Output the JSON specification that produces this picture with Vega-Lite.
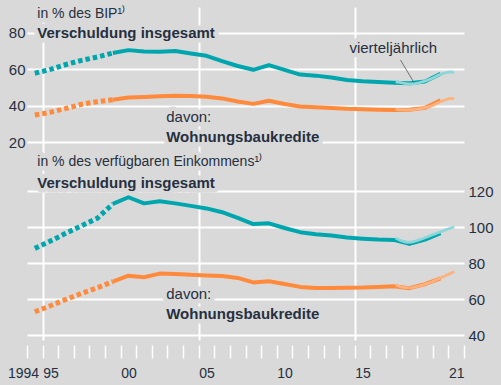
{
  "$schema": "https://vega.github.io/schema/vega-lite/v6.json",
  "width": 437,
  "height": 333,
  "autosize": {"type": "none"},
  "padding": {"left": 27, "top": 7, "right": 37, "bottom": 45},
  "background": "#d9d9d9",
  "config": {
    "view": {"stroke": null},
    "font": "Liberation Sans",
    "text": {"font": "Liberation Sans", "color": "#263040"}
  },
  "datasets": {
    "kurven": [
      {"panel": "BIP", "reihe": "gesamt", "art": "früh", "t": 1994.5, "v": 57.9},
      {"panel": "BIP", "reihe": "gesamt", "art": "früh", "t": 1995.5, "v": 60.0},
      {"panel": "BIP", "reihe": "gesamt", "art": "früh", "t": 1996.5, "v": 62.7},
      {"panel": "BIP", "reihe": "gesamt", "art": "früh", "t": 1997.5, "v": 65.0},
      {"panel": "BIP", "reihe": "gesamt", "art": "früh", "t": 1998.5, "v": 66.8},
      {"panel": "BIP", "reihe": "gesamt", "art": "früh", "t": 1999.5, "v": 69.0},
      {"panel": "BIP", "reihe": "gesamt", "art": "jährlich", "t": 1999.5, "v": 69.0},
      {"panel": "BIP", "reihe": "gesamt", "art": "jährlich", "t": 2000.5, "v": 70.6},
      {"panel": "BIP", "reihe": "gesamt", "art": "jährlich", "t": 2001.5, "v": 69.8},
      {"panel": "BIP", "reihe": "gesamt", "art": "jährlich", "t": 2002.5, "v": 69.7},
      {"panel": "BIP", "reihe": "gesamt", "art": "jährlich", "t": 2003.5, "v": 70.1},
      {"panel": "BIP", "reihe": "gesamt", "art": "jährlich", "t": 2004.5, "v": 68.8},
      {"panel": "BIP", "reihe": "gesamt", "art": "jährlich", "t": 2005.5, "v": 67.5},
      {"panel": "BIP", "reihe": "gesamt", "art": "jährlich", "t": 2006.5, "v": 64.6},
      {"panel": "BIP", "reihe": "gesamt", "art": "jährlich", "t": 2007.5, "v": 61.9},
      {"panel": "BIP", "reihe": "gesamt", "art": "jährlich", "t": 2008.5, "v": 59.8},
      {"panel": "BIP", "reihe": "gesamt", "art": "jährlich", "t": 2009.5, "v": 62.4},
      {"panel": "BIP", "reihe": "gesamt", "art": "jährlich", "t": 2010.5, "v": 59.8},
      {"panel": "BIP", "reihe": "gesamt", "art": "jährlich", "t": 2011.5, "v": 57.2},
      {"panel": "BIP", "reihe": "gesamt", "art": "jährlich", "t": 2012.5, "v": 56.6},
      {"panel": "BIP", "reihe": "gesamt", "art": "jährlich", "t": 2013.5, "v": 55.6},
      {"panel": "BIP", "reihe": "gesamt", "art": "jährlich", "t": 2014.5, "v": 54.2},
      {"panel": "BIP", "reihe": "gesamt", "art": "jährlich", "t": 2015.5, "v": 53.5},
      {"panel": "BIP", "reihe": "gesamt", "art": "jährlich", "t": 2016.5, "v": 53.1},
      {"panel": "BIP", "reihe": "gesamt", "art": "jährlich", "t": 2017.5, "v": 52.7},
      {"panel": "BIP", "reihe": "gesamt", "art": "jährlich", "t": 2018.5, "v": 52.4},
      {"panel": "BIP", "reihe": "gesamt", "art": "jährlich", "t": 2019.5, "v": 53.4},
      {"panel": "BIP", "reihe": "gesamt", "art": "jährlich", "t": 2020.5, "v": 57.6},
      {"panel": "BIP", "reihe": "gesamt", "art": "vierteljährlich", "t": 2017.625, "v": 53.2},
      {"panel": "BIP", "reihe": "gesamt", "art": "vierteljährlich", "t": 2017.875, "v": 52.9},
      {"panel": "BIP", "reihe": "gesamt", "art": "vierteljährlich", "t": 2018.125, "v": 52.5},
      {"panel": "BIP", "reihe": "gesamt", "art": "vierteljährlich", "t": 2018.375, "v": 52.1},
      {"panel": "BIP", "reihe": "gesamt", "art": "vierteljährlich", "t": 2018.625, "v": 52.0},
      {"panel": "BIP", "reihe": "gesamt", "art": "vierteljährlich", "t": 2018.875, "v": 52.2},
      {"panel": "BIP", "reihe": "gesamt", "art": "vierteljährlich", "t": 2019.125, "v": 52.7},
      {"panel": "BIP", "reihe": "gesamt", "art": "vierteljährlich", "t": 2019.375, "v": 53.3},
      {"panel": "BIP", "reihe": "gesamt", "art": "vierteljährlich", "t": 2019.625, "v": 54.0},
      {"panel": "BIP", "reihe": "gesamt", "art": "vierteljährlich", "t": 2019.875, "v": 54.8},
      {"panel": "BIP", "reihe": "gesamt", "art": "vierteljährlich", "t": 2020.125, "v": 55.8},
      {"panel": "BIP", "reihe": "gesamt", "art": "vierteljährlich", "t": 2020.375, "v": 56.9},
      {"panel": "BIP", "reihe": "gesamt", "art": "vierteljährlich", "t": 2020.625, "v": 57.7},
      {"panel": "BIP", "reihe": "gesamt", "art": "vierteljährlich", "t": 2020.875, "v": 58.2},
      {"panel": "BIP", "reihe": "gesamt", "art": "vierteljährlich", "t": 2021.125, "v": 58.6},
      {"panel": "BIP", "reihe": "gesamt", "art": "vierteljährlich", "t": 2021.375, "v": 58.3},
      {"panel": "BIP", "reihe": "wohnung", "art": "früh", "t": 1994.5, "v": 35.0},
      {"panel": "BIP", "reihe": "wohnung", "art": "früh", "t": 1995.5, "v": 36.5},
      {"panel": "BIP", "reihe": "wohnung", "art": "früh", "t": 1996.5, "v": 38.6},
      {"panel": "BIP", "reihe": "wohnung", "art": "früh", "t": 1997.5, "v": 40.9},
      {"panel": "BIP", "reihe": "wohnung", "art": "früh", "t": 1998.5, "v": 42.3},
      {"panel": "BIP", "reihe": "wohnung", "art": "früh", "t": 1999.5, "v": 43.4},
      {"panel": "BIP", "reihe": "wohnung", "art": "jährlich", "t": 1999.5, "v": 43.4},
      {"panel": "BIP", "reihe": "wohnung", "art": "jährlich", "t": 2000.5, "v": 44.6},
      {"panel": "BIP", "reihe": "wohnung", "art": "jährlich", "t": 2001.5, "v": 44.9},
      {"panel": "BIP", "reihe": "wohnung", "art": "jährlich", "t": 2002.5, "v": 45.3},
      {"panel": "BIP", "reihe": "wohnung", "art": "jährlich", "t": 2003.5, "v": 45.6},
      {"panel": "BIP", "reihe": "wohnung", "art": "jährlich", "t": 2004.5, "v": 45.4},
      {"panel": "BIP", "reihe": "wohnung", "art": "jährlich", "t": 2005.5, "v": 45.0},
      {"panel": "BIP", "reihe": "wohnung", "art": "jährlich", "t": 2006.5, "v": 44.1},
      {"panel": "BIP", "reihe": "wohnung", "art": "jährlich", "t": 2007.5, "v": 42.4},
      {"panel": "BIP", "reihe": "wohnung", "art": "jährlich", "t": 2008.5, "v": 41.1},
      {"panel": "BIP", "reihe": "wohnung", "art": "jährlich", "t": 2009.5, "v": 42.8},
      {"panel": "BIP", "reihe": "wohnung", "art": "jährlich", "t": 2010.5, "v": 41.0},
      {"panel": "BIP", "reihe": "wohnung", "art": "jährlich", "t": 2011.5, "v": 39.7},
      {"panel": "BIP", "reihe": "wohnung", "art": "jährlich", "t": 2012.5, "v": 39.3},
      {"panel": "BIP", "reihe": "wohnung", "art": "jährlich", "t": 2013.5, "v": 38.9},
      {"panel": "BIP", "reihe": "wohnung", "art": "jährlich", "t": 2014.5, "v": 38.4},
      {"panel": "BIP", "reihe": "wohnung", "art": "jährlich", "t": 2015.5, "v": 38.1},
      {"panel": "BIP", "reihe": "wohnung", "art": "jährlich", "t": 2016.5, "v": 37.9},
      {"panel": "BIP", "reihe": "wohnung", "art": "jährlich", "t": 2017.5, "v": 37.8},
      {"panel": "BIP", "reihe": "wohnung", "art": "jährlich", "t": 2018.5, "v": 37.9},
      {"panel": "BIP", "reihe": "wohnung", "art": "jährlich", "t": 2019.5, "v": 38.9},
      {"panel": "BIP", "reihe": "wohnung", "art": "jährlich", "t": 2020.5, "v": 43.0},
      {"panel": "BIP", "reihe": "wohnung", "art": "vierteljährlich", "t": 2017.625, "v": 38.0},
      {"panel": "BIP", "reihe": "wohnung", "art": "vierteljährlich", "t": 2017.875, "v": 37.9},
      {"panel": "BIP", "reihe": "wohnung", "art": "vierteljährlich", "t": 2018.125, "v": 37.8},
      {"panel": "BIP", "reihe": "wohnung", "art": "vierteljährlich", "t": 2018.375, "v": 37.8},
      {"panel": "BIP", "reihe": "wohnung", "art": "vierteljährlich", "t": 2018.625, "v": 37.9},
      {"panel": "BIP", "reihe": "wohnung", "art": "vierteljährlich", "t": 2018.875, "v": 38.1},
      {"panel": "BIP", "reihe": "wohnung", "art": "vierteljährlich", "t": 2019.125, "v": 38.4},
      {"panel": "BIP", "reihe": "wohnung", "art": "vierteljährlich", "t": 2019.375, "v": 38.8},
      {"panel": "BIP", "reihe": "wohnung", "art": "vierteljährlich", "t": 2019.625, "v": 39.3},
      {"panel": "BIP", "reihe": "wohnung", "art": "vierteljährlich", "t": 2019.875, "v": 39.9},
      {"panel": "BIP", "reihe": "wohnung", "art": "vierteljährlich", "t": 2020.125, "v": 40.7},
      {"panel": "BIP", "reihe": "wohnung", "art": "vierteljährlich", "t": 2020.375, "v": 41.8},
      {"panel": "BIP", "reihe": "wohnung", "art": "vierteljährlich", "t": 2020.625, "v": 42.8},
      {"panel": "BIP", "reihe": "wohnung", "art": "vierteljährlich", "t": 2020.875, "v": 43.5},
      {"panel": "BIP", "reihe": "wohnung", "art": "vierteljährlich", "t": 2021.125, "v": 44.1},
      {"panel": "BIP", "reihe": "wohnung", "art": "vierteljährlich", "t": 2021.375, "v": 44.0},
      {"panel": "Einkommen", "reihe": "gesamt", "art": "früh", "t": 1994.5, "v": 88.3},
      {"panel": "Einkommen", "reihe": "gesamt", "art": "früh", "t": 1995.5, "v": 92.4},
      {"panel": "Einkommen", "reihe": "gesamt", "art": "früh", "t": 1996.5, "v": 96.7},
      {"panel": "Einkommen", "reihe": "gesamt", "art": "früh", "t": 1997.5, "v": 100.9},
      {"panel": "Einkommen", "reihe": "gesamt", "art": "früh", "t": 1998.5, "v": 105.0},
      {"panel": "Einkommen", "reihe": "gesamt", "art": "früh", "t": 1999.5, "v": 113.0},
      {"panel": "Einkommen", "reihe": "gesamt", "art": "jährlich", "t": 1999.5, "v": 113.0},
      {"panel": "Einkommen", "reihe": "gesamt", "art": "jährlich", "t": 2000.5, "v": 116.7},
      {"panel": "Einkommen", "reihe": "gesamt", "art": "jährlich", "t": 2001.5, "v": 113.3},
      {"panel": "Einkommen", "reihe": "gesamt", "art": "jährlich", "t": 2002.5, "v": 114.5},
      {"panel": "Einkommen", "reihe": "gesamt", "art": "jährlich", "t": 2003.5, "v": 113.3},
      {"panel": "Einkommen", "reihe": "gesamt", "art": "jährlich", "t": 2004.5, "v": 111.9},
      {"panel": "Einkommen", "reihe": "gesamt", "art": "jährlich", "t": 2005.5, "v": 110.5},
      {"panel": "Einkommen", "reihe": "gesamt", "art": "jährlich", "t": 2006.5, "v": 108.4},
      {"panel": "Einkommen", "reihe": "gesamt", "art": "jährlich", "t": 2007.5, "v": 105.3},
      {"panel": "Einkommen", "reihe": "gesamt", "art": "jährlich", "t": 2008.5, "v": 101.8},
      {"panel": "Einkommen", "reihe": "gesamt", "art": "jährlich", "t": 2009.5, "v": 102.2},
      {"panel": "Einkommen", "reihe": "gesamt", "art": "jährlich", "t": 2010.5, "v": 99.6},
      {"panel": "Einkommen", "reihe": "gesamt", "art": "jährlich", "t": 2011.5, "v": 97.3},
      {"panel": "Einkommen", "reihe": "gesamt", "art": "jährlich", "t": 2012.5, "v": 96.1},
      {"panel": "Einkommen", "reihe": "gesamt", "art": "jährlich", "t": 2013.5, "v": 95.4},
      {"panel": "Einkommen", "reihe": "gesamt", "art": "jährlich", "t": 2014.5, "v": 94.3},
      {"panel": "Einkommen", "reihe": "gesamt", "art": "jährlich", "t": 2015.5, "v": 93.7},
      {"panel": "Einkommen", "reihe": "gesamt", "art": "jährlich", "t": 2016.5, "v": 93.2},
      {"panel": "Einkommen", "reihe": "gesamt", "art": "jährlich", "t": 2017.5, "v": 93.0},
      {"panel": "Einkommen", "reihe": "gesamt", "art": "jährlich", "t": 2018.5, "v": 90.8},
      {"panel": "Einkommen", "reihe": "gesamt", "art": "jährlich", "t": 2019.5, "v": 93.2},
      {"panel": "Einkommen", "reihe": "gesamt", "art": "jährlich", "t": 2020.5, "v": 96.7},
      {"panel": "Einkommen", "reihe": "gesamt", "art": "vierteljährlich", "t": 2017.625, "v": 94.0},
      {"panel": "Einkommen", "reihe": "gesamt", "art": "vierteljährlich", "t": 2017.875, "v": 92.9},
      {"panel": "Einkommen", "reihe": "gesamt", "art": "vierteljährlich", "t": 2018.125, "v": 92.1},
      {"panel": "Einkommen", "reihe": "gesamt", "art": "vierteljährlich", "t": 2018.375, "v": 91.7},
      {"panel": "Einkommen", "reihe": "gesamt", "art": "vierteljährlich", "t": 2018.625, "v": 91.8},
      {"panel": "Einkommen", "reihe": "gesamt", "art": "vierteljährlich", "t": 2018.875, "v": 92.3},
      {"panel": "Einkommen", "reihe": "gesamt", "art": "vierteljährlich", "t": 2019.125, "v": 93.0},
      {"panel": "Einkommen", "reihe": "gesamt", "art": "vierteljährlich", "t": 2019.375, "v": 93.8},
      {"panel": "Einkommen", "reihe": "gesamt", "art": "vierteljährlich", "t": 2019.625, "v": 94.6},
      {"panel": "Einkommen", "reihe": "gesamt", "art": "vierteljährlich", "t": 2019.875, "v": 95.5},
      {"panel": "Einkommen", "reihe": "gesamt", "art": "vierteljährlich", "t": 2020.125, "v": 96.3},
      {"panel": "Einkommen", "reihe": "gesamt", "art": "vierteljährlich", "t": 2020.375, "v": 97.1},
      {"panel": "Einkommen", "reihe": "gesamt", "art": "vierteljährlich", "t": 2020.625, "v": 97.9},
      {"panel": "Einkommen", "reihe": "gesamt", "art": "vierteljährlich", "t": 2020.875, "v": 98.7},
      {"panel": "Einkommen", "reihe": "gesamt", "art": "vierteljährlich", "t": 2021.125, "v": 99.5},
      {"panel": "Einkommen", "reihe": "gesamt", "art": "vierteljährlich", "t": 2021.375, "v": 100.3},
      {"panel": "Einkommen", "reihe": "wohnung", "art": "früh", "t": 1994.5, "v": 53.1},
      {"panel": "Einkommen", "reihe": "wohnung", "art": "früh", "t": 1995.5, "v": 56.4},
      {"panel": "Einkommen", "reihe": "wohnung", "art": "früh", "t": 1996.5, "v": 60.0},
      {"panel": "Einkommen", "reihe": "wohnung", "art": "früh", "t": 1997.5, "v": 63.3},
      {"panel": "Einkommen", "reihe": "wohnung", "art": "früh", "t": 1998.5, "v": 66.4},
      {"panel": "Einkommen", "reihe": "wohnung", "art": "früh", "t": 1999.5, "v": 69.8},
      {"panel": "Einkommen", "reihe": "wohnung", "art": "jährlich", "t": 1999.5, "v": 69.8},
      {"panel": "Einkommen", "reihe": "wohnung", "art": "jährlich", "t": 2000.5, "v": 73.1},
      {"panel": "Einkommen", "reihe": "wohnung", "art": "jährlich", "t": 2001.5, "v": 72.3},
      {"panel": "Einkommen", "reihe": "wohnung", "art": "jährlich", "t": 2002.5, "v": 74.3},
      {"panel": "Einkommen", "reihe": "wohnung", "art": "jährlich", "t": 2003.5, "v": 74.1},
      {"panel": "Einkommen", "reihe": "wohnung", "art": "jährlich", "t": 2004.5, "v": 73.6},
      {"panel": "Einkommen", "reihe": "wohnung", "art": "jährlich", "t": 2005.5, "v": 73.3},
      {"panel": "Einkommen", "reihe": "wohnung", "art": "jährlich", "t": 2006.5, "v": 73.0},
      {"panel": "Einkommen", "reihe": "wohnung", "art": "jährlich", "t": 2007.5, "v": 71.9},
      {"panel": "Einkommen", "reihe": "wohnung", "art": "jährlich", "t": 2008.5, "v": 69.4},
      {"panel": "Einkommen", "reihe": "wohnung", "art": "jährlich", "t": 2009.5, "v": 70.0},
      {"panel": "Einkommen", "reihe": "wohnung", "art": "jährlich", "t": 2010.5, "v": 68.5},
      {"panel": "Einkommen", "reihe": "wohnung", "art": "jährlich", "t": 2011.5, "v": 66.9},
      {"panel": "Einkommen", "reihe": "wohnung", "art": "jährlich", "t": 2012.5, "v": 66.3},
      {"panel": "Einkommen", "reihe": "wohnung", "art": "jährlich", "t": 2013.5, "v": 66.3},
      {"panel": "Einkommen", "reihe": "wohnung", "art": "jährlich", "t": 2014.5, "v": 66.4},
      {"panel": "Einkommen", "reihe": "wohnung", "art": "jährlich", "t": 2015.5, "v": 66.5},
      {"panel": "Einkommen", "reihe": "wohnung", "art": "jährlich", "t": 2016.5, "v": 66.8},
      {"panel": "Einkommen", "reihe": "wohnung", "art": "jährlich", "t": 2017.5, "v": 67.2},
      {"panel": "Einkommen", "reihe": "wohnung", "art": "jährlich", "t": 2018.5, "v": 66.2},
      {"panel": "Einkommen", "reihe": "wohnung", "art": "jährlich", "t": 2019.5, "v": 68.4},
      {"panel": "Einkommen", "reihe": "wohnung", "art": "jährlich", "t": 2020.5, "v": 71.7},
      {"panel": "Einkommen", "reihe": "wohnung", "art": "vierteljährlich", "t": 2017.625, "v": 67.8},
      {"panel": "Einkommen", "reihe": "wohnung", "art": "vierteljährlich", "t": 2017.875, "v": 67.1},
      {"panel": "Einkommen", "reihe": "wohnung", "art": "vierteljährlich", "t": 2018.125, "v": 66.7},
      {"panel": "Einkommen", "reihe": "wohnung", "art": "vierteljährlich", "t": 2018.375, "v": 66.4},
      {"panel": "Einkommen", "reihe": "wohnung", "art": "vierteljährlich", "t": 2018.625, "v": 66.5},
      {"panel": "Einkommen", "reihe": "wohnung", "art": "vierteljährlich", "t": 2018.875, "v": 66.9},
      {"panel": "Einkommen", "reihe": "wohnung", "art": "vierteljährlich", "t": 2019.125, "v": 67.4},
      {"panel": "Einkommen", "reihe": "wohnung", "art": "vierteljährlich", "t": 2019.375, "v": 68.0},
      {"panel": "Einkommen", "reihe": "wohnung", "art": "vierteljährlich", "t": 2019.625, "v": 68.7},
      {"panel": "Einkommen", "reihe": "wohnung", "art": "vierteljährlich", "t": 2019.875, "v": 69.5},
      {"panel": "Einkommen", "reihe": "wohnung", "art": "vierteljährlich", "t": 2020.125, "v": 70.4},
      {"panel": "Einkommen", "reihe": "wohnung", "art": "vierteljährlich", "t": 2020.375, "v": 71.4},
      {"panel": "Einkommen", "reihe": "wohnung", "art": "vierteljährlich", "t": 2020.625, "v": 72.4},
      {"panel": "Einkommen", "reihe": "wohnung", "art": "vierteljährlich", "t": 2020.875, "v": 73.4},
      {"panel": "Einkommen", "reihe": "wohnung", "art": "vierteljährlich", "t": 2021.125, "v": 74.4},
      {"panel": "Einkommen", "reihe": "wohnung", "art": "vierteljährlich", "t": 2021.375, "v": 75.3}
    ],
    "texte": [
      {"panel": "BIP", "rolle": "einheit", "text": "in % des BIP¹⁾", "t": 1994.66, "v": 90.7},
      {"panel": "BIP", "rolle": "titel", "text": "Verschuldung insgesamt", "t": 1994.66, "v": 80.0},
      {"panel": "BIP", "rolle": "davon", "text": "davon:", "t": 2002.92, "v": 33.9},
      {"panel": "BIP", "rolle": "titel", "text": "Wohnungsbaukredite", "t": 2002.92, "v": 22.9},
      {"panel": "BIP", "rolle": "hinweis", "text": "vierteljährlich", "t": 2014.66, "v": 71.8},
      {"panel": "Einkommen", "rolle": "einheit", "text": "in % des verfügbaren Einkommens¹⁾", "t": 1994.66, "v": 136.3},
      {"panel": "Einkommen", "rolle": "titel", "text": "Verschuldung insgesamt", "t": 1994.66, "v": 124.6},
      {"panel": "Einkommen", "rolle": "davon", "text": "davon:", "t": 2002.92, "v": 62.9},
      {"panel": "Einkommen", "rolle": "titel", "text": "Wohnungsbaukredite", "t": 2002.92, "v": 51.6}
    ],
    "hinweislinie": [
      {"t": 2017.93, "v": 65.2, "t2": 2018.76, "v2": 53.3}
    ]
  },
  "encoding": {
    "x": {
      "field": "t",
      "type": "quantitative",
      "scale": {"domain": [1994, 2022], "nice": false, "zero": false},
      "axis": {
        "values": [1994, 1995, 1996, 1997, 1998, 1999, 2000, 2001, 2002, 2003, 2004, 2005, 2006, 2007, 2008, 2009, 2010, 2011, 2012, 2013, 2014, 2015, 2016, 2017, 2018, 2019, 2020, 2021, 2022],
        "format": "d",
        "labelExpr": "datum.value == 1994 ? '1994' : (indexof([1995, 2000, 2005, 2010, 2015, 2021], datum.value) >= 0 ? substring(datum.label, 2) : '')",
        "labelOffset": {"condition": {"test": "datum.value == 1994", "value": -4}, "value": 7.8},
        "labelFontSize": 14,
        "labelColor": "#263040",
        "labelPadding": 8,
        "labelOverlap": false,
        "labelBound": false,
        "labelFlush": false,
        "tickColor": "white",
        "tickWidth": 1.5,
        "tickSize": 13,
        "offset": 5,
        "domain": false,
        "title": null,
        "grid": true,
        "gridColor": "white",
        "gridWidth": 2,
        "gridOpacity": {"condition": {"test": "datum.value % 10 === 5", "value": 1}, "value": 0},
        "encode": {
          "ticks": {
            "update": {
              "y": {"signal": "datum.value % 10 === 5 ? -5 : 0"},
              "y2": {"signal": "datum.value % 10 === 5 ? 45 : (datum.value % 10 === 0 ? 30 : 13)"}
            }
          }
        }
      }
    }
  },
  "layer": [
    {
      "encoding": {
        "y": {
          "field": "v",
          "type": "quantitative",
          "scale": {"domain": [-88.5, 94.27], "nice": false, "zero": false},
          "axis": {
            "orient": "left",
            "values": [20, 40, 60, 80],
            "title": null,
            "domain": false,
            "ticks": false,
            "labelFontSize": 15,
            "labelColor": "#263040",
            "labelPadding": 2,
            "grid": true,
            "gridColor": "white",
            "gridWidth": 2
          }
        }
      },
      "layer": [
        {
          "data": {"name": "texte"},
          "transform": [{"filter": "datum.panel === 'BIP' && datum.rolle !== 'titel'"}],
          "mark": {"type": "text", "align": "left", "baseline": "middle", "fill": "#d9d9d9", "stroke": "#d9d9d9", "strokeWidth": 9, "strokeJoin": "round"},
          "encoding": {"text": {"field": "text"}, "size": {"condition": {"test": "datum.rolle === 'einheit'", "value": 14}, "value": 15}}
        },
        {
          "data": {"name": "texte"},
          "transform": [{"filter": "datum.panel === 'BIP' && datum.rolle === 'titel'"}],
          "mark": {"type": "text", "align": "left", "baseline": "middle", "fontWeight": "bold", "fontSize": 15, "fill": "#d9d9d9", "stroke": "#d9d9d9", "strokeWidth": 9, "strokeJoin": "round"},
          "encoding": {"text": {"field": "text"}}
        },
        {
          "data": {"name": "kurven"},
          "transform": [{"filter": "datum.panel === 'BIP' && datum.art === 'früh'"}],
          "mark": {"type": "line", "strokeWidth": 5, "strokeDash": [4.5, 3], "strokeCap": "butt"},
          "encoding": {
            "detail": {"field": "reihe"},
            "color": {"condition": {"test": "datum.reihe === 'gesamt'", "value": "#00a6ae"}, "value": "#ff8a3c"}
          }
        },
        {
          "data": {"name": "kurven"},
          "transform": [{"filter": "datum.panel === 'BIP' && datum.art === 'jährlich'"}],
          "mark": {"type": "line", "strokeWidth": 4, "strokeCap": "butt", "strokeJoin": "round"},
          "encoding": {
            "detail": {"field": "reihe"},
            "color": {"condition": {"test": "datum.reihe === 'gesamt'", "value": "#00a6ae"}, "value": "#ff8a3c"}
          }
        },
        {
          "data": {"name": "kurven"},
          "transform": [{"filter": "datum.panel === 'BIP' && datum.art === 'vierteljährlich'"}],
          "mark": {"type": "line", "strokeWidth": 2.8, "strokeCap": "butt", "strokeJoin": "round"},
          "encoding": {
            "detail": {"field": "reihe"},
            "color": {"condition": {"test": "datum.reihe === 'gesamt'", "value": "#8dd7db"}, "value": "#ffb27e"}
          }
        },
        {
          "data": {"name": "hinweislinie"},
          "mark": {"type": "rule", "color": "#555555", "strokeWidth": 0.8},
          "encoding": {"x2": {"field": "t2"}, "y2": {"field": "v2"}}
        },
        {
          "data": {"name": "texte"},
          "transform": [{"filter": "datum.panel === 'BIP' && datum.rolle !== 'titel'"}],
          "mark": {"type": "text", "align": "left", "baseline": "middle", "color": "#263040"},
          "encoding": {"text": {"field": "text"}, "size": {"condition": {"test": "datum.rolle === 'einheit'", "value": 14}, "value": 15}}
        },
        {
          "data": {"name": "texte"},
          "transform": [{"filter": "datum.panel === 'BIP' && datum.rolle === 'titel'"}],
          "mark": {"type": "text", "align": "left", "baseline": "middle", "fontWeight": "bold", "fontSize": 15, "color": "#263040"},
          "encoding": {"text": {"field": "text"}}
        }
      ]
    },
    {
      "encoding": {
        "y": {
          "field": "v",
          "type": "quantitative",
          "scale": {"domain": [37.4, 222.4], "nice": false, "zero": false},
          "axis": {
            "orient": "right",
            "values": [40, 60, 80, 100, 120],
            "title": null,
            "domain": false,
            "ticks": false,
            "labelFontSize": 15,
            "labelColor": "#263040",
            "labelPadding": 4,
            "grid": true,
            "gridColor": "white",
            "gridWidth": 2
          }
        }
      },
      "layer": [
        {
          "data": {"name": "texte"},
          "transform": [{"filter": "datum.panel === 'Einkommen' && datum.rolle !== 'titel'"}],
          "mark": {"type": "text", "align": "left", "baseline": "middle", "fill": "#d9d9d9", "stroke": "#d9d9d9", "strokeWidth": 9, "strokeJoin": "round"},
          "encoding": {"text": {"field": "text"}, "size": {"condition": {"test": "datum.rolle === 'einheit'", "value": 14}, "value": 15}}
        },
        {
          "data": {"name": "texte"},
          "transform": [{"filter": "datum.panel === 'Einkommen' && datum.rolle === 'titel'"}],
          "mark": {"type": "text", "align": "left", "baseline": "middle", "fontWeight": "bold", "fontSize": 15, "fill": "#d9d9d9", "stroke": "#d9d9d9", "strokeWidth": 9, "strokeJoin": "round"},
          "encoding": {"text": {"field": "text"}}
        },
        {
          "data": {"name": "kurven"},
          "transform": [{"filter": "datum.panel === 'Einkommen' && datum.art === 'früh'"}],
          "mark": {"type": "line", "strokeWidth": 5, "strokeDash": [4.5, 3], "strokeCap": "butt"},
          "encoding": {
            "detail": {"field": "reihe"},
            "color": {"condition": {"test": "datum.reihe === 'gesamt'", "value": "#00a6ae"}, "value": "#ff8a3c"}
          }
        },
        {
          "data": {"name": "kurven"},
          "transform": [{"filter": "datum.panel === 'Einkommen' && datum.art === 'jährlich'"}],
          "mark": {"type": "line", "strokeWidth": 4, "strokeCap": "butt", "strokeJoin": "round"},
          "encoding": {
            "detail": {"field": "reihe"},
            "color": {"condition": {"test": "datum.reihe === 'gesamt'", "value": "#00a6ae"}, "value": "#ff8a3c"}
          }
        },
        {
          "data": {"name": "kurven"},
          "transform": [{"filter": "datum.panel === 'Einkommen' && datum.art === 'vierteljährlich'"}],
          "mark": {"type": "line", "strokeWidth": 2.8, "strokeCap": "butt", "strokeJoin": "round"},
          "encoding": {
            "detail": {"field": "reihe"},
            "color": {"condition": {"test": "datum.reihe === 'gesamt'", "value": "#8dd7db"}, "value": "#ffb27e"}
          }
        },
        {
          "data": {"name": "texte"},
          "transform": [{"filter": "datum.panel === 'Einkommen' && datum.rolle !== 'titel'"}],
          "mark": {"type": "text", "align": "left", "baseline": "middle", "color": "#263040"},
          "encoding": {"text": {"field": "text"}, "size": {"condition": {"test": "datum.rolle === 'einheit'", "value": 14}, "value": 15}}
        },
        {
          "data": {"name": "texte"},
          "transform": [{"filter": "datum.panel === 'Einkommen' && datum.rolle === 'titel'"}],
          "mark": {"type": "text", "align": "left", "baseline": "middle", "fontWeight": "bold", "fontSize": 15, "color": "#263040"},
          "encoding": {"text": {"field": "text"}}
        }
      ]
    }
  ],
  "resolve": {"scale": {"y": "independent"}, "axis": {"y": "independent"}}
}
